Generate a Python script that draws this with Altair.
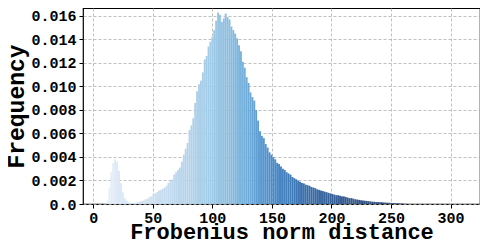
import altair as alt
import pandas as pd

# histogram bins: start at 8.0, width 1.6
bin_start0 = 8.0
bin_width = 1.6
# frequency per bin, in units of 1e-4
freq_e4 = [
    0, 0.3, 3, 14, 27, 35, 38, 36, 28, 18,
    10, 5, 3, 1.5, 1, 0.8, 0.9, 1.2, 1.5, 2,
    2.6, 3, 4, 4.6, 6, 6.5, 8, 9, 10, 11.5,
    12, 13, 14, 15.5, 18, 20, 21, 25, 27, 29,
    31, 36, 42, 47, 52, 63, 67, 73, 86, 96,
    102, 105, 112, 123, 126, 134, 138, 142, 148, 156,
    163, 161, 155, 158, 162, 159, 157, 151, 148, 145,
    141, 135, 130, 121, 116, 108, 103, 95, 91, 88,
    80, 71, 62, 58, 56, 51, 48, 44, 42, 40,
    38, 35, 34, 32, 30, 29, 27, 26, 25, 23,
    22, 21, 20, 19, 18, 17.5, 16.5, 16, 15.5, 14.5,
    14, 13.5, 12.5, 12, 11.5, 11, 10.5, 10, 9.5, 9,
    8.5, 8, 7.5, 7.5, 7, 6.5, 6.5, 6, 5.5, 5,
    5, 4.5, 4, 3.8, 3.5, 3.2, 3, 2.8, 2.6, 2.4,
    2.2, 2, 1.9, 1.7, 1.6, 1.5, 1.4, 1.3, 1.2, 1.1,
    1, 0.9, 0.8, 0.7, 0.6, 0.6, 0.5, 0.3, 0.2, 0.1,
]

x_ticks = [0, 50, 100, 150, 200, 250, 300]
y_ticks = [0.0, 0.002, 0.004, 0.006, 0.008, 0.010, 0.012, 0.014, 0.016]

color_stops = [10, 20, 60, 100, 125, 150, 180, 220, 260]
color_values = ["#eaf2fa", "#dde9f6", "#c6dcef", "#a0cae6", "#78b2dc",
                "#4a8cca", "#3a6eaa", "#36568a", "#2f4a78"]

rows = []
for i, f in enumerate(freq_e4):
    s = bin_start0 + i * bin_width
    rows.append({"start": s, "end": s + bin_width, "mid": s + bin_width / 2,
                 "freq": f / 10000.0})
df = pd.DataFrame(rows)

FONT = "Liberation Mono"

chart = alt.Chart(df).mark_rect().encode(
    x=alt.X("start:Q",
            scale=alt.Scale(domain=[-8.6, 324.7], nice=False, zero=False),
            axis=alt.Axis(values=x_ticks, title="Frobenius norm distance",
                          format="d", titleY=34, titleBaseline="alphabetic",
                          titleFontSize=22, labelPadding=2)),
    x2="end:Q",
    y=alt.Y("freq:Q",
            scale=alt.Scale(domain=[0, 0.01668], nice=False),
            axis=alt.Axis(values=y_ticks, title="Frequency",
                          titleX=-60, titleBaseline="alphabetic", titleAngle=270,
                          labelExpr="datum.value == 0 ? '0.0' : format(datum.value, '.3f')")),
    y2=alt.datum(0),
    color=alt.Color("mid:Q",
                    scale=alt.Scale(domain=color_stops, range=color_values),
                    legend=None),
).properties(
    width=397,
    height=196,
    autosize=alt.AutoSizeParams(type="none"),
    padding={"left": 75, "top": 0, "right": 0, "bottom": 36},
).configure_view(
    stroke="black", strokeWidth=1.2
).configure_axis(
    labelFont=FONT, labelFontWeight="bold", labelFontSize=15, labelColor="black",
    titleFont=FONT, titleFontWeight="bold", titleFontSize=23, titleColor="black",
    grid=True, gridColor="#b0b0b0", gridDash=[3, 2], gridWidth=0.8,
    domain=False, tickColor="black", tickSize=4, labelPadding=3,
)

chart.save("out.html", embed_options={"renderer": "svg", "actions": False})
